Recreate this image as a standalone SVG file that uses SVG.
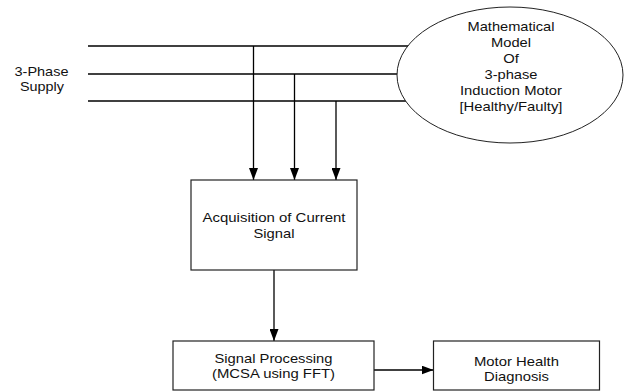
<svg xmlns="http://www.w3.org/2000/svg" width="625" height="392" viewBox="0 0 625 392">
<style>
text{font-family:"Liberation Sans",Arial,sans-serif;font-size:13.5px;fill:#111;text-anchor:middle}
.box{fill:#fff;stroke:#222;stroke-width:1.2}
.wire{stroke:#000;stroke-width:1.3;fill:none}
</style>
<defs>
<marker id="ah" markerUnits="userSpaceOnUse" markerWidth="12" markerHeight="9" refX="12" refY="4.5" orient="auto" viewBox="0 0 12 9">
<path d="M0,0 L12,4.5 L0,9 Z" fill="#000"/>
</marker>
</defs>
<rect width="625" height="392" fill="#fff"/>
<g id="connectors">
<line class="wire" x1="88" y1="46" x2="409" y2="46"/>
<line class="wire" x1="88" y1="74" x2="398" y2="74"/>
<line class="wire" x1="88" y1="101" x2="407" y2="101"/>
<line class="wire" x1="253.5" y1="46" x2="253.5" y2="180" marker-end="url(#ah)"/>
<line class="wire" x1="294.5" y1="74" x2="294.5" y2="180" marker-end="url(#ah)"/>
<line class="wire" x1="336" y1="101" x2="336" y2="180" marker-end="url(#ah)"/>
<line class="wire" x1="274" y1="270" x2="274" y2="341" marker-end="url(#ah)"/>
<line class="wire" x1="374" y1="370" x2="433.5" y2="370" marker-end="url(#ah)"/>
</g>
<g id="supply">
<text x="41.5" y="76" textLength="54" lengthAdjust="spacingAndGlyphs">3-Phase</text>
<text x="42" y="91" textLength="44" lengthAdjust="spacingAndGlyphs">Supply</text>
</g>
<g id="motor-model">
<ellipse cx="510" cy="75" rx="113" ry="68" fill="#fff" stroke="#222" stroke-width="1"/>
<text x="511" y="31" textLength="87" lengthAdjust="spacingAndGlyphs">Mathematical</text>
<text x="511" y="47" textLength="40" lengthAdjust="spacingAndGlyphs">Model</text>
<text x="511" y="63" textLength="15.6" lengthAdjust="spacingAndGlyphs">Of</text>
<text x="511" y="79" textLength="53" lengthAdjust="spacingAndGlyphs">3-phase</text>
<text x="511" y="95" textLength="102" lengthAdjust="spacingAndGlyphs">Induction Motor</text>
<text x="511" y="111" textLength="103" lengthAdjust="spacingAndGlyphs">[Healthy/Faulty]</text>
</g>
<g id="acquisition">
<rect class="box" x="191" y="180" width="166" height="90"/>
<text x="274" y="222" textLength="143" lengthAdjust="spacingAndGlyphs">Acquisition of Current</text>
<text x="274" y="238" textLength="41" lengthAdjust="spacingAndGlyphs">Signal</text>
</g>
<g id="signal-processing">
<rect class="box" x="173" y="341" width="201" height="49"/>
<text x="273.5" y="363" textLength="118" lengthAdjust="spacingAndGlyphs">Signal Processing</text>
<text x="273.5" y="378" textLength="123" lengthAdjust="spacingAndGlyphs">(MCSA using FFT)</text>
</g>
<g id="diagnosis">
<rect class="box" x="433.5" y="341" width="166" height="49"/>
<text x="516.5" y="366" textLength="85" lengthAdjust="spacingAndGlyphs">Motor Health</text>
<text x="516.5" y="381" textLength="65" lengthAdjust="spacingAndGlyphs">Diagnosis</text>
</g>
</svg>
